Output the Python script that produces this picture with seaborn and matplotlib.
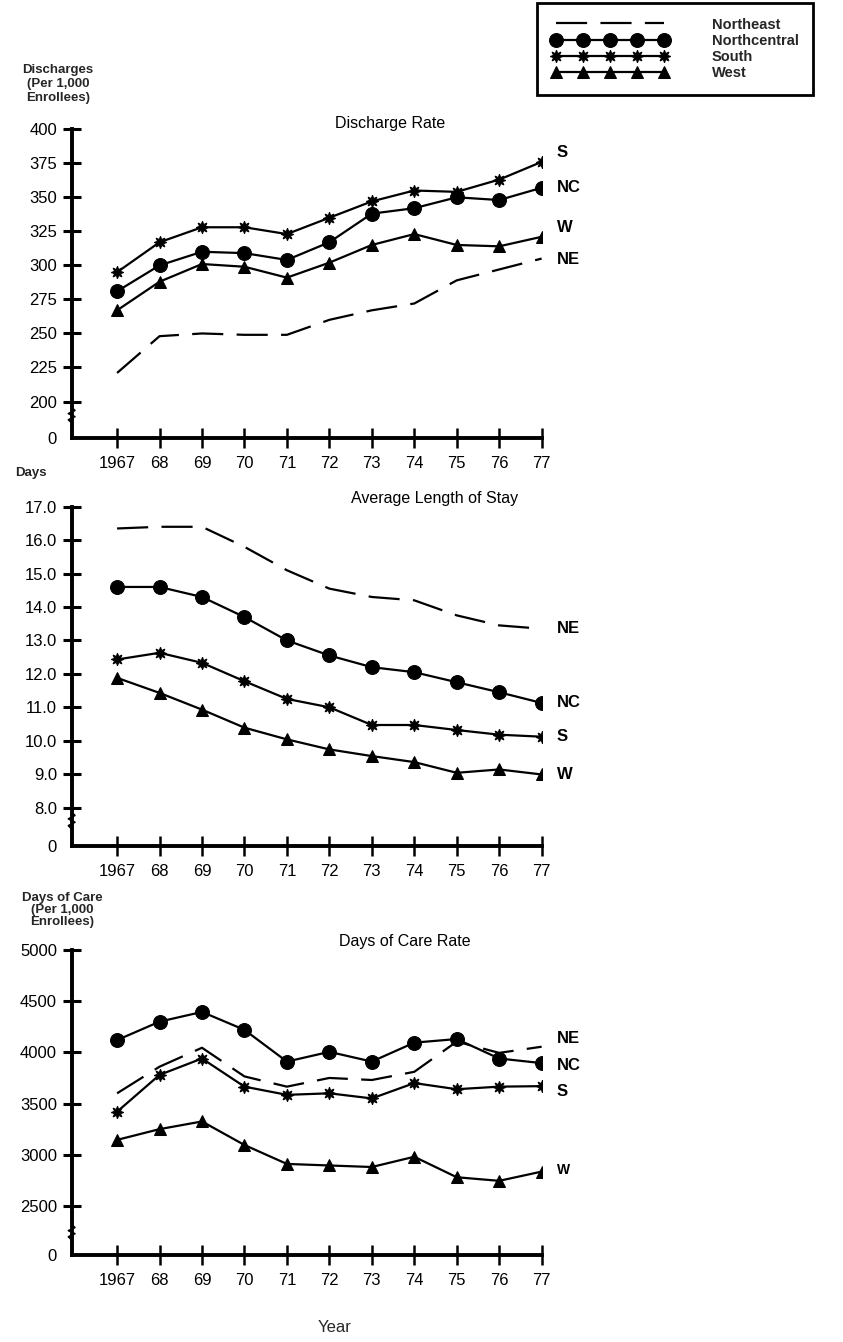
import seaborn as sns
import matplotlib.pyplot as plt
import pandas as pd
import numpy as np

years = list(range(1967, 1978))
year_labels = ['1967', '68', '69', '70', '71', '72', '73', '74', '75', '76', '77']
regions = ['Northeast', 'Northcentral', 'South', 'West']
short_names = ['NE', 'NC', 'S', 'W']

# Discharges per 1,000 enrollees
discharge_ne = [221, 248, 250, 249, 249, 260, 267, 272, 289, 297, 305]
discharge_nc = [281, 300, 310, 309, 304, 317, 338, 342, 350, 348, 357]
discharge_s = [295, 317, 328, 328, 323, 335, 347, 355, 354, 363, 376]
discharge_w = [267, 288, 301, 299, 291, 302, 315, 323, 315, 314, 321]

# Average length of stay (days)
alos_ne = [16.35, 16.4, 16.4, 15.8, 15.1, 14.55, 14.3, 14.2, 13.75, 13.45, 13.35]
alos_nc = [14.6, 14.6, 14.3, 13.7, 13.0, 12.55, 12.2, 12.05, 11.75, 11.45, 11.13]
alos_s = [12.43, 12.63, 12.33, 11.78, 11.25, 11.0, 10.47, 10.47, 10.32, 10.18, 10.12]
alos_w = [11.88, 11.43, 10.93, 10.39, 10.04, 9.74, 9.54, 9.36, 9.04, 9.14, 8.99]

# Days of care per 1,000 enrollees
care_ne = [3600, 3860, 4045, 3765, 3665, 3750, 3730, 3810, 4105, 3995, 4055]
care_nc = [4120, 4300, 4395, 4220, 3910, 4005, 3910, 4095, 4130, 3940, 3895]
care_s = [3420, 3780, 3940, 3665, 3585, 3600, 3550, 3700, 3640, 3665, 3670]
care_w = [3145, 3250, 3325, 3095, 2910, 2895, 2880, 2980, 2780, 2745, 2835]

panels = [
    dict(title='Discharge Rate', data=[discharge_ne, discharge_nc, discharge_s, discharge_w],
         ticks=[200, 225, 250, 275, 300, 325, 350, 375, 400], fmt='{:.0f}', ylim=(173, 400),
         rect=[0.085, 0.6734, 0.5575, 0.2303], title_xy=(0.677, 1.02),
         label_off=[-1, 0, 7, 7], label_size=[12, 12, 12, 12]),
    dict(title='Average Length of Stay', data=[alos_ne, alos_nc, alos_s, alos_w],
         ticks=[8, 9, 10, 11, 12, 13, 14, 15, 16, 17], fmt='{:.1f}', ylim=(6.85, 17.0),
         rect=[0.085, 0.3696, 0.5575, 0.2528], title_xy=(0.772, 1.023),
         label_off=[0, 0, 0, 0], label_size=[12, 12, 12, 12]),
    dict(title='Days of Care Rate', data=[care_ne, care_nc, care_s, care_w],
         ticks=[2500, 3000, 3500, 4000, 4500, 5000], fmt='{:.0f}', ylim=(2020, 5000),
         rect=[0.085, 0.0648, 0.5575, 0.2273], title_xy=(0.709, 1.027),
         label_off=[80, -20, -50, 15], label_size=[12, 12, 12, 10]),
]

line_styles = [
    dict(marker=None, linestyle=(0, (14, 6))),
    dict(marker='o', markersize=10),
    dict(marker=(8, 1, 0), markersize=9),
    dict(marker='^', markersize=8),
]

sns.set_theme(style='white')
plt.rcParams['font.family'] = ['Liberation Sans', 'DejaVu Sans']

fig = plt.figure(figsize=(8.43, 13.42), dpi=100)

axes = []
for p in panels:
    ax = fig.add_axes(p['rect'])
    axes.append(ax)
    for vals, region, st in zip(p['data'], regions, line_styles):
        sns.lineplot(x=years, y=vals, ax=ax, color='black', lw=1.6, label=region,
                     markeredgecolor='black', markerfacecolor='black', **st)
    if ax.get_legend() is not None:
        ax.get_legend().remove()

    ax.set_xlim(1965.93, 1977)
    ax.set_ylim(*p['ylim'])
    ax.set_xticks(years)
    ax.set_xticklabels(year_labels)
    yt = [p['ylim'][0]] + p['ticks']
    ax.set_yticks(yt)
    ax.set_yticklabels(['0'] + [p['fmt'].format(t) for t in p['ticks']])
    ax.tick_params(axis='y', direction='inout', length=13, width=2.2, pad=4,
                   labelsize=12, colors='black', left=True)
    ax.tick_params(axis='x', direction='inout', length=14, width=1.8, pad=6,
                   labelsize=12, colors='black', bottom=True)
    # no tick mark at the broken zero
    ax.yaxis.get_major_ticks()[0].tick1line.set_visible(False)
    for s in ['top', 'right']:
        ax.spines[s].set_visible(False)
    for s in ['left', 'bottom']:
        ax.spines[s].set_color('black')
        ax.spines[s].set_linewidth(2.8)
    ax.set_xlabel('')
    ax.set_ylabel('')
    ax.grid(False)

    # axis break squiggle
    zx = [0, -0.007, 0.007, -0.007, 0.007, 0]
    zy = [0.05, 0.06, 0.07, 0.08, 0.09, 0.10]
    ax.plot(zx, zy, transform=ax.transAxes, color='black', lw=1.2, clip_on=False)

    ax.text(p['title_xy'][0], p['title_xy'][1], p['title'], transform=ax.transAxes,
            ha='center', va='center', fontsize=11.5, color='black')

    for vals, name, off, fs in zip(p['data'], short_names, p['label_off'], p['label_size']):
        ax.text(1977.35, vals[-1] + off, name, ha='left', va='center',
                fontsize=fs, fontweight='bold', color='black')

# axis captions
fig.text(58 / 843, 1 - 84 / 1342, 'Discharges\n(Per 1,000\nEnrollees)', ha='center', va='center',
         fontsize=9.5, fontweight='bold', linespacing=1.2)
fig.text(15 / 843, 1 - 473 / 1342, 'Days', ha='left', va='center', fontsize=9.5, fontweight='bold')
fig.text(62 / 843, 1 - 910 / 1342, 'Days of Care\n(Per 1,000\nEnrollees)', ha='center', va='center',
         fontsize=9.5, fontweight='bold', linespacing=1.0)
fig.text(335 / 843, 1 - 1328 / 1342, 'Year', ha='center', va='center', fontsize=12)

handles, labels = axes[0].get_legend_handles_labels()
leg = fig.legend(handles, labels, loc='upper left', bbox_to_anchor=(537 / 843, 1 - 3 / 1342),
                 borderaxespad=0, frameon=True, fancybox=False, edgecolor='black', framealpha=1,
                 handlelength=8, handletextpad=3.0, labelspacing=0.15, borderpad=1.0,
                 numpoints=5, prop={'size': 10.5, 'weight': 'bold'})
leg.get_frame().set_linewidth(2)

fig.savefig('out.png', dpi=100)
